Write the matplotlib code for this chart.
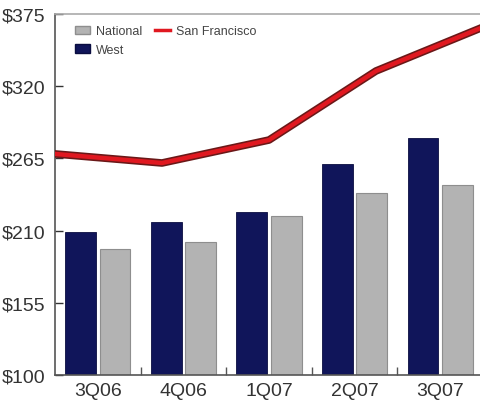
import matplotlib
matplotlib.use("Agg")
import matplotlib.pyplot as plt
import matplotlib.patheffects as pe
import numpy as np

quarters = ["3Q06", "4Q06", "1Q07", "2Q07", "3Q07"]
west = [208.7, 216.3, 224.0, 260.7, 280.5]
national = [196.0, 201.6, 221.4, 238.4, 244.7]
san_francisco = [268.4, 261.5, 279.0, 331.6, 365.0]
y_ticks = [100, 155, 210, 265, 320, 375]

plt.rcParams["font.family"] = ["Liberation Sans Narrow", "Liberation Sans", "DejaVu Sans"]

fig = plt.figure(figsize=(4.8, 4.06), dpi=100)
W, H = 480, 406
ax = fig.add_axes([55 / W, 1 - 376 / H, 428 / W, 361 / H])

x = np.arange(len(quarters))
bw = 0.36
ax.bar(x - 0.02 - bw / 2, west, bw, color="#10155a", edgecolor="#0a0d40",
       linewidth=0.6, label="West", zorder=2)
ax.bar(x + 0.02 + bw / 2, national, bw, color="#b3b3b3", edgecolor="#8e8e8e",
       linewidth=0.8, label="National", zorder=2)

ax.set_xlim(-0.5, len(quarters) - 0.5)
ax.set_ylim(100, 375)
ax.set_yticks(y_ticks)
ax.set_yticklabels([f"${v}" for v in y_ticks], fontsize=14, color="#333333")
ax.set_xticks(x)
ax.set_xticklabels(quarters, fontsize=14, color="#333333")
ax.tick_params(axis="x", length=0, pad=5)
ax.set_xticks(np.arange(0.5, len(quarters) - 0.5, 1), minor=True)
ax.tick_params(axis="x", which="minor", direction="in", length=6, width=1, color="#555555")
ax.tick_params(axis="y", direction="in", length=6, width=1, color="#333333", pad=7)

for s in ("left", "bottom"):
    ax.spines[s].set_color("#555555")
    ax.spines[s].set_linewidth(1.2)
ax.spines["top"].set_color("#aaaaaa")
ax.spines["top"].set_linewidth(1.2)
ax.spines["right"].set_visible(False)

# San Francisco line spans the full plot width on its own x-scale
ax2 = ax.twiny()
ax2.set_xlim(0, len(san_francisco) - 1)
ax2.set_xticks([])
for s in ax2.spines.values():
    s.set_visible(False)
line, = ax2.plot(np.arange(len(san_francisco)), san_francisco, color="#e01820",
                 linewidth=3.2, solid_joinstyle="round", zorder=3, label="San Francisco",
                 path_effects=[pe.Stroke(linewidth=5.5, foreground="#6a1818"), pe.Normal()])

handles = [plt.Rectangle((0, 0), 1, 1, fc="#b3b3b3", ec="#8e8e8e"),
           plt.Rectangle((0, 0), 1, 1, fc="#10155a", ec="#0a0d40"),
           plt.Line2D([], [], color="#e01820", linewidth=2.5)]
leg = ax.legend(handles, ["National", "West", "San Francisco"], ncol=2,
                loc="upper left", bbox_to_anchor=(0.02, 1.0), frameon=False,
                fontsize=9, handlelength=1.2, handleheight=0.7,
                handletextpad=0.5, columnspacing=1.0, labelspacing=0.5)
for t in leg.get_texts():
    t.set_color("#444444")
leg.set_zorder(5)

fig.savefig("out.png", dpi=100)
